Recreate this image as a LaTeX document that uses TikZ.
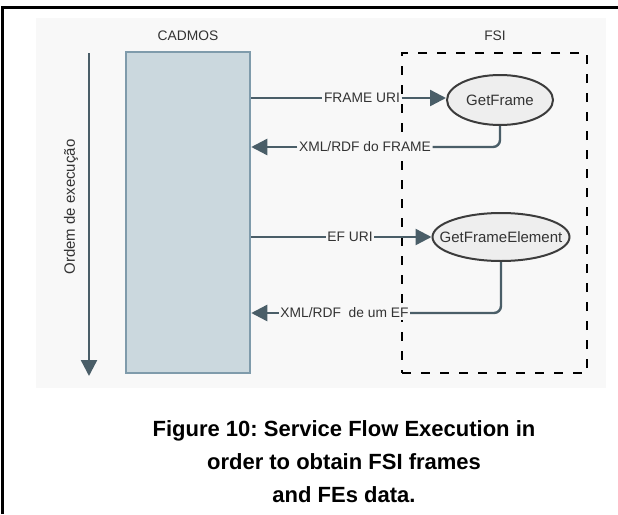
\documentclass[tikz,border=0pt]{standalone}
\usepackage{fontspec}
\setmainfont{Liberation Sans}
\usetikzlibrary{arrows.meta,shapes.geometric}
\frenchspacing
\definecolor{panel}{HTML}{F8F8F8}
\definecolor{boxfill}{HTML}{CBD8DE}
\definecolor{boxline}{HTML}{7F9BAB}
\definecolor{arrowc}{HTML}{4A5E68}
\definecolor{ellfill}{HTML}{EEEEEE}
\definecolor{ellline}{HTML}{3C3C3C}
\definecolor{txt}{HTML}{333333}
\tikzset{
  flow/.style={draw=arrowc, line width=2.4pt},
  flowarrow/.style={flow, -{Triangle[length=16pt,width=16pt]}},
  lbl/.style={fill=panel, inner sep=1.5pt, text=txt, font=\fontsize{13.8}{16}\selectfont},
  title/.style={inner sep=0pt, text=txt, font=\fontsize{13.8}{16}\selectfont},
  cadbox/.style={draw=boxline, fill=boxfill, line width=2.5pt, inner sep=0pt},
  svc/.style={ellipse, draw=ellline, fill=ellfill, line width=2pt, inner sep=0pt, text=txt, font=\fontsize{15}{17}\selectfont},
  fsibox/.style={draw=black, dash pattern=on 9pt off 10pt, line width=1.4pt, inner sep=0pt},
  captionline/.style={anchor=base, inner sep=0pt, font=\fontsize{22}{26}\selectfont\bfseries}
}
\begin{document}
\begin{tikzpicture}[x=1pt,y=-1pt]
\useasboundingbox (0,0) rectangle (618,514);
% frame and panel
\fill[panel] (36,18) rectangle (606,388);
\draw[line width=3pt] (2.5,514) -- (2.5,7) -- (618,7);
% titles
\node[title] (tcad) at (188,36) {CADMOS};
\node[title] (tfsi) at (495,36) {FSI};
% CADMOS box
\node[cadbox, minimum width=124pt, minimum height=321pt] (cad) at (188,212.5) {};
% FSI dashed box
\node[fsibox, minimum width=185pt, minimum height=320pt] (fsi) at (494.5,213) {};
% execution arrow
\coordinate (ex1) at (89,53);
\coordinate (ex2) at (89,376);
\draw[flowarrow] (ex1) -- (ex2);
\node[text=txt, rotate=90, font=\fontsize{15}{17}\selectfont] (ord) at (71,207) {Ordem de execução};
% services
\node[svc, minimum width=106pt, minimum height=50pt] (gf) at (500,100) {\makebox[0pt]{GetFrame}};
\node[svc, minimum width=137pt, minimum height=48pt] (gfe) at (501,237) {\makebox[0pt]{GetFrameElement}};
% labels
\node[lbl] (l1) at (362,98) {FRAME URI};
\node[lbl] (l2) at (365,147) {XML/RDF do FRAME};
\node[lbl] (l3) at (350,237) {EF URI};
\node[lbl] (l4) at (344.5,313) {XML/RDF\ \ de um EF};
% connectors
\draw[flow] (cad.east |- l1) -- (l1.west);
\draw[flowarrow] (l1.east) -- (gf.west |- l1);
\draw[flow, rounded corners=7pt] (gf.south) |- (l2.east);
\draw[flowarrow] (l2.west) -- (cad.east |- l2);
\draw[flow] (cad.east |- l3) -- (l3.west);
\draw[flowarrow] (l3.east) -- (gfe.west);
\draw[flow, rounded corners=7pt] (gfe.south) |- (l4.east);
\draw[flowarrow] (l4.west) -- (cad.east |- l4);
% caption
\node[captionline] (c1) at (344,436) {Figure 10: Service Flow Execution in};
\node[captionline] (c2) at (344,469) {order to obtain FSI frames};
\node[captionline] (c3) at (344,502) {and FEs data.};
\end{tikzpicture}
\end{document}
